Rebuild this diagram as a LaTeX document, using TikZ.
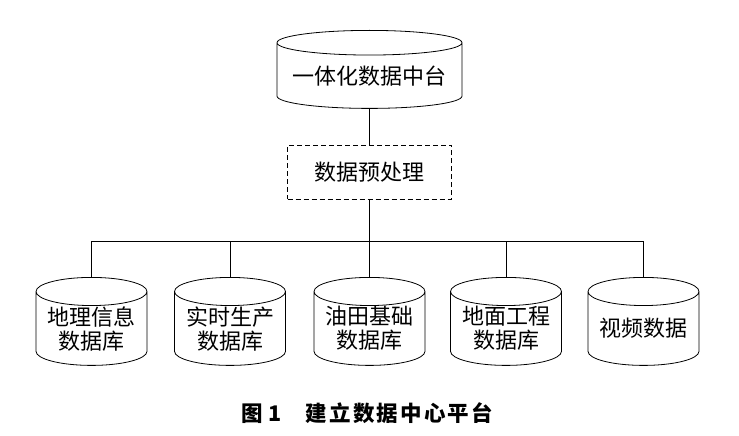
\documentclass[tikz,border=0pt]{standalone}
\usepackage{fontspec}
\setmainfont{Noto Sans CJK SC}
\newfontfamily\capfont{Noto Sans CJK SC}[LetterSpace=10]
\usetikzlibrary{shapes.geometric}
\begin{document}
\begin{tikzpicture}[
    x=1pt, y=-1pt,
    line width=0.8pt,
    dbase/.style={draw, cylinder, shape border rotate=90, aspect=0.32,
                  minimum width=111pt, minimum height=88pt, inner sep=0pt,
                  align=center, font=\fontsize{22}{24}\selectfont},
    prep/.style={draw, dash pattern=on 5pt off 3pt, minimum width=164pt,
                 minimum height=54pt, font=\fontsize{22}{24}\selectfont}]
    \useasboundingbox (0,0) rectangle (739,436);
    \node[dbase, minimum width=185pt, minimum height=78pt, aspect=0.16, anchor=north]
        (hub) at (369.5,30) {一体化数据中台};
    \node[prep] (pre) at (369.5,172) {数据预处理};
    \coordinate (bus) at (369.5,241);
    \node[dbase, anchor=north] (geo)   at (91.5,277)  {地理信息\\数据库};
    \node[dbase, anchor=north] (prod)  at (230,277)   {实时生产\\数据库};
    \node[dbase, anchor=north] (field) at (369.5,277) {油田基础\\数据库};
    \node[dbase, anchor=north] (surf)  at (506,277)   {地面工程\\数据库};
    \node[dbase, anchor=north] (video) at (643.5,277) {视频数据};
    \node[font=\capfont\bfseries\fontsize{21.5}{24}\selectfont] (cap) at (367,413)
        {图\hspace{6pt}1\hspace{24pt}建立数据中心平台};
    \draw (hub) -- (pre);
    \draw (pre) -- (bus);
    \foreach \n in {geo, prod, field, surf, video}
        \draw (bus) -| (\n.north);
\end{tikzpicture}
\end{document}
